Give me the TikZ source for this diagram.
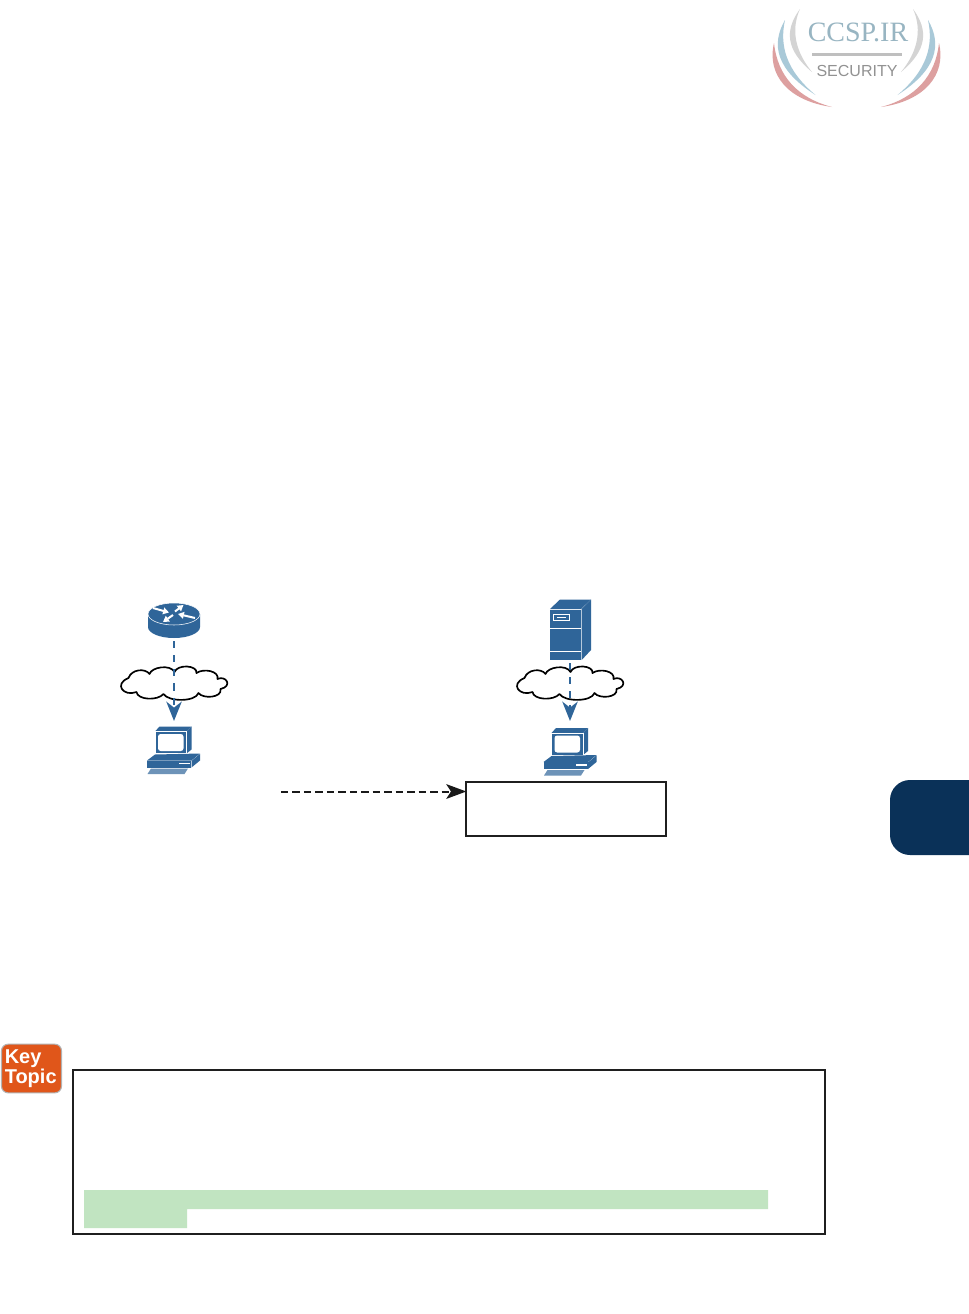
\documentclass[tikz,border=0pt]{standalone}
\usepackage{fontspec}
\setmainfont{Liberation Sans}
\newfontfamily\logoserif{Liberation Serif}
\usetikzlibrary{arrows.meta}
\definecolor{netblue}{HTML}{2F6599}
\definecolor{navytab}{HTML}{0A3158}
\definecolor{keyorange}{HTML}{E0561A}
\definecolor{hlgreen}{HTML}{C1E4C1}
\definecolor{logoblue}{HTML}{A9C9D8}
\definecolor{logored}{HTML}{DDA0A0}
\definecolor{logogray}{HTML}{D4D4D4}
\definecolor{logotext}{HTML}{929292}
\tikzset{
  x=0.75pt,y=-0.75pt,
  whiteline/.style={draw=white,line width=0.6pt},
  routerarrow/.style={draw=white,line width=1.5pt,-{Triangle[length=4.4pt,width=5pt]}},
  bluedash/.style={draw=netblue,line width=1.9pt,dash pattern=on 5.4pt off 5.2pt,
    -{Stealth[length=14.5pt,width=11.5pt,inset=4.5pt,color=netblue]}},
  blackdash/.style={draw=black!90,line width=1.5pt,dash pattern=on 5.6pt off 3pt,
    -{Stealth[length=15pt,width=11pt,inset=3.5pt,color=black!90]}},
  framebox/.style={draw=black!88,line width=1.6pt,fill=white,inner sep=0pt,outer sep=0pt},
  cloudline/.style={draw=black,line width=1.25pt,fill=white,line join=round},
  routericon/.pic={
    \fill[netblue] (-26,-11) -- (-26,2) arc[start angle=180,end angle=0,x radius=26,y radius=11] -- (26,-11) -- cycle;
    \draw[fill=netblue,draw=white,line width=0.4pt] (0,-11) ellipse[x radius=26,y radius=11];
    \draw[routerarrow] (-21,-17) -- (-5,-12.5);
    \draw[routerarrow] (1,-13.5) -- (9.5,-20);
    \draw[routerarrow] (21,-7) -- (4,-11);
    \draw[routerarrow] (-1,-10) -- (-11,-3);
  },
  pcicon/.pic={
    \fill[netblue] (-19,-16) -- (-14.5,-21) -- (17.5,-21) -- (12.5,-16) -- cycle;
    \fill[netblue] (12.5,-16) -- (17.5,-21) -- (17.5,2) -- (12.5,6) -- cycle;
    \draw[fill=netblue,draw=white,line width=0.3pt] (-19,-16) rectangle (12.5,6);
    \fill[white,rounded corners=2pt] (-16,-13.5) rectangle (9.5,3.5);
    \fill[netblue] (-27,13) -- (-19,7) -- (26,6) -- (17.5,13) -- cycle;
    \fill[netblue] (17.5,13.4) -- (26,6.4) -- (26,13) -- (17.5,20) -- cycle;
    \fill[netblue] (-27,13.4) rectangle (17.3,20);
    \fill[white] (5,15.2) rectangle (16,16.6);
    \fill[netblue!70] (-23,21) -- (14,21) -- (10.5,26.5) -- (-26.5,26.5) -- cycle;
  },
  servericon/.pic={
    \fill[netblue] (-20.5,-25) -- (-10.5,-34.5) -- (20.5,-34.5) -- (10.5,-25) -- cycle;
    \fill[netblue] (11.2,-25) -- (20.5,-34.5) -- (20.5,16) -- (11.2,26) -- cycle;
    \fill[netblue] (-20.5,-24.5) rectangle (10.5,26);
    \draw[whiteline] (-20.5,-5.5) -- (10.5,-5.5);
    \draw[whiteline] (-20.5,17.5) -- (10.5,17.5);
    \draw[whiteline] (-17,-19.5) rectangle (-1,-13.5);
    \draw[whiteline] (-13.5,-16.5) -- (-4.5,-16.5);
  },
  cloudicon/.pic={
    \path[cloudline] (-47,-5)
      .. controls (-44,-14) and (-30,-15) .. (-26,-9)
      .. controls (-24,-16) and (-5,-19) .. (-1,-11)
      .. controls (2,-19) and (22,-18) .. (21,-10)
      .. controls (28,-15) and (44,-12) .. (42,-4)
      .. controls (50,-8) and (58,3) .. (45,6)
      .. controls (47,15) and (27,16) .. (23,10)
      .. controls (20,19) and (-7,19) .. (-12,11)
      .. controls (-18,18) and (-38,17) .. (-39,9)
      .. controls (-52,14) and (-62,1) .. (-47,-5) -- cycle;
  },
}
\begin{document}
\begin{tikzpicture}
\useasboundingbox (0,0) rectangle (969,1314);
\fill[white] (0,0) rectangle (969,1314);

% logo
\foreach \s in {1,-1}{
\begin{scope}[shift={(856.5,0)},xscale=\s]
  \fill[logogray] (-56.5,9) .. controls (-72,30) and (-71,50) .. (-44.5,72)
     .. controls (-61,52) and (-66,30) .. (-56.5,9) -- cycle;
  \fill[logoblue] (-71.5,20) .. controls (-86,45) and (-80,70) .. (-41,95)
     .. controls (-71,70) and (-77,45) .. (-71.5,20) -- cycle;
  \fill[logored] (-82.5,43) .. controls (-90,75) and (-68,101) .. (-24.5,107)
     .. controls (-59,98) and (-79,76) .. (-82.5,43) -- cycle;
\end{scope}}
\node[text=logoblue!90!black,font=\logoserif\fontsize{21pt}{21pt}\selectfont,inner sep=0pt] (logotitle) at (858,32) {CCSP.IR};
\fill[logogray!90!black] (812,53) rectangle (902,56);
\node[text=logotext,font=\fontsize{12pt}{12pt}\selectfont,inner sep=0pt] (logosub) at (857,70.5) {SECURITY};

% chapter tab
\fill[navytab,rounded corners=15pt] (890,780) rectangle (990,855);

% router side
\pic at (174,625) {routericon};
\coordinate (routerfoot) at (174,641);
\pic at (175.5,683) {cloudicon};
\pic at (174,747.5) {pcicon};
\coordinate (pcatop) at (174,721);
\draw[bluedash] (routerfoot) -- (pcatop);

% server side
\pic at (570.5,634) {servericon};
\coordinate (serverfoot) at (570,663);
\pic at (571.5,683) {cloudicon};
\pic at (570.5,749) {pcicon};
\coordinate (pcbtop) at (570,721);
\draw[bluedash] (serverfoot) -- (pcbtop);

% text box and arrow
\node[framebox,minimum width=150pt,minimum height=40pt] (resultbox) at (566.3,809) {};
\coordinate (arrowstart) at (281,791.5);
\draw[blackdash] (arrowstart) -- (arrowstart -| resultbox.west);

% key topic badge
\node[fill=keyorange,draw=black!30,line width=0.8pt,rounded corners=5pt,minimum width=45pt,minimum height=36.5pt,inner sep=0pt] (keybadge) at (31.5,1068.5) {};
\node[text=white,font=\bfseries\fontsize{15pt}{13.5pt}\selectfont,align=left,inner sep=0pt,anchor=west] (keytext) at (4.5,1069) {Key\\Topic};

% listing box
\node[framebox,minimum width=564pt,minimum height=123pt] (listing) at (449.2,1152) {};
\fill[hlgreen] (84,1190) -- (768,1190) -- (768,1209) -- (187,1209) -- (187,1228) -- (84,1228) -- cycle;
\end{tikzpicture}
\end{document}
